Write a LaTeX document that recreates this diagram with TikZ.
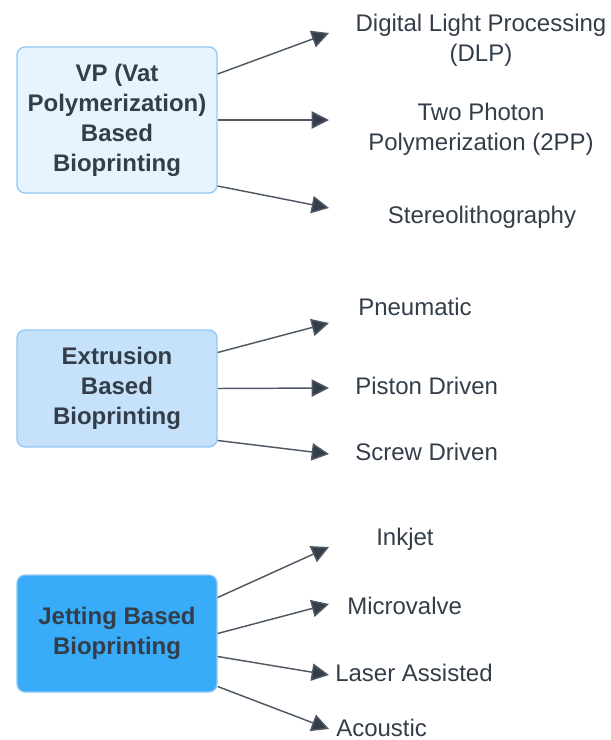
\documentclass[tikz,border=0pt]{standalone}
\usepackage{fontspec}
\setmainfont{Liberation Sans}
\usetikzlibrary{arrows.meta,calc}
\definecolor{inkdark}{HTML}{333E4A}
\definecolor{linegray}{HTML}{4F5964}
\definecolor{boxedge}{HTML}{92C8F3}
\definecolor{fillvp}{HTML}{E8F4FD}
\definecolor{fillext}{HTML}{C6E2FB}
\definecolor{filljet}{HTML}{38ABF9}
\begin{document}
\begin{tikzpicture}[x=0.75pt,y=-0.75pt,
  catbox/.style={draw=boxedge,line width=1pt,rounded corners=6pt,
    minimum width=150pt,align=center,inner sep=0pt,
    font=\fontsize{18}{22.5}\selectfont\bfseries,text=inkdark},
  leaf/.style={inner sep=0pt,align=center,
    font=\fontsize{18}{22.5}\selectfont,text=inkdark},
  link/.style={draw=linegray,line width=1.1pt,
    -{Triangle[length=13pt,width=13pt,fill=inkdark]}}]
\useasboundingbox (0,0) rectangle (611,740);

% category boxes
\node[catbox,fill=fillvp,minimum height=109.5pt] (vp) at (117,120)
  {VP (Vat\\Polymerization)\\Based\\Bioprinting};
\node[catbox,fill=fillext,minimum height=87.75pt] (ext) at (117,388.5)
  {Extrusion\\Based\\Bioprinting};
\node[catbox,fill=filljet,minimum height=87.75pt] (jet) at (117,633.5)
  {Jetting Based\\Bioprinting};

% technique labels
\node[leaf] (dlp) at (481,40) {Digital Light Processing\\(DLP)};
\node[leaf] (tpp) at (481,129) {Two Photon\\Polymerization (2PP)};
\node[leaf] (sla) at (482,217) {Stereolithography};
\node[leaf,anchor=west] (pne) at (358,307) {Pneumatic};
\node[leaf,anchor=west] (pis) at (355,386) {Piston Driven};
\node[leaf,anchor=west] (scr) at (355,452) {Screw Driven};
\node[leaf,anchor=west] (ink) at (376,539) {Inkjet};
\node[leaf,anchor=west] (mic) at (347,606) {Microvalve};
\node[leaf,anchor=west] (las) at (335,673) {Laser Assisted};
\node[leaf,anchor=west] (aco) at (336,728) {Acoustic};

% arrow tips in front of the labels
\coordinate (tdlp) at (329,33);
\coordinate (ttpp) at (329,120);
\coordinate (tsla) at (329,208);
\coordinate (tpne) at (329,323);
\coordinate (tpis) at (329,388);
\coordinate (tscr) at (329,454);
\coordinate (tink) at (329,547);
\coordinate (tmic) at (329,604);
\coordinate (tlas) at (329,675);
\coordinate (taco) at (329,729);

% connectors
\draw[link] ($(vp.east)+(0,-46)$) -- (tdlp);
\draw[link] (vp.east) -- (ttpp);
\draw[link] ($(vp.east)+(0,66)$) -- (tsla);
\draw[link] ($(ext.east)+(0,-36)$) -- (tpne);
\draw[link] (ext.east) -- (tpis);
\draw[link] ($(ext.east)+(0,52)$) -- (tscr);
\draw[link] ($(jet.east)+(0,-36)$) -- (tink);
\draw[link] ($(jet.east)+(0,0)$) -- (tmic);
\draw[link] ($(jet.east)+(0,23)$) -- (tlas);
\draw[link] ($(jet.east)+(0,53)$) -- (taco);
\end{tikzpicture}
\end{document}
